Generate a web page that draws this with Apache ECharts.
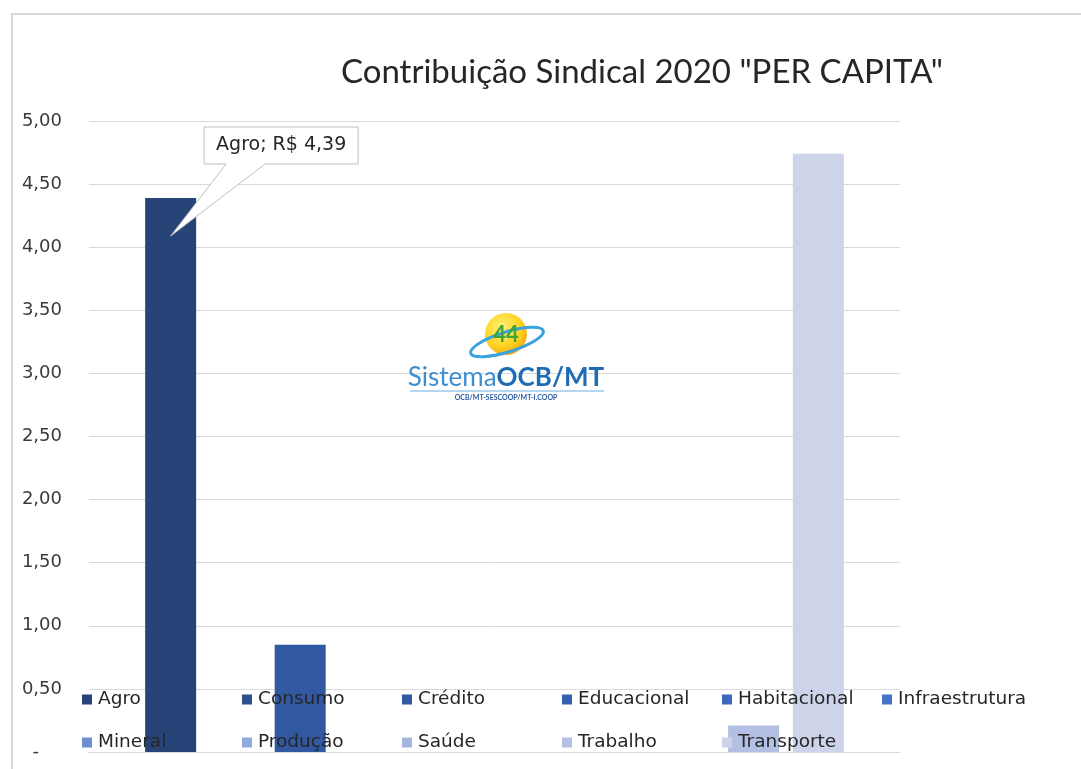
<!DOCTYPE html>
<html>
<head>
<meta charset="utf-8">
<script src="https://cdn.jsdelivr.net/npm/echarts@6/dist/echarts.min.js"></script>
<style>
  html, body { margin: 0; padding: 0; background: #fff; }
  #chart { width: 1081px; height: 769px; }
</style>
</head>
<body>
<div id="chart"></div>
<script>
// series (one bar each, Excel clustered column with a single category)
const seriesNames = ['Agro', 'Consumo', 'Crédito', 'Educacional', 'Habitacional', 'Infraestrutura',
  'Mineral', 'Produção', 'Saúde', 'Trabalho', 'Transporte']
const seriesValues = [4.39, null, 0.85, null, null, null, null, null, null, 0.21, 4.74]
const seriesColors = ['#264478', '#2c4f8d', '#3158a0', '#365fb0', '#3d68bd', '#4472c4',
  '#6e8fd0', '#8faadc', '#a4b6e0', '#b4c0e3', '#cdd4e9']
const yTicks = [0, 0.5, 1, 1.5, 2, 2.5, 3, 3.5, 4, 4.5, 5]
const calloutText = 'Agro; R$ 4,39'

const FONT = '"DejaVu Sans", sans-serif'
const TITLE_FONT = 'Lato, sans-serif'
const chart = echarts.init(document.getElementById('chart'))

const fmt = (v) => v === 0 ? '-    ' : v.toFixed(2).replace('.', ',')

// one legend block per series, laid out on a 6-column grid like Excel
const legends = seriesNames.map((name, i) => ({
  data: [name],
  left: 82 + (i % 6) * 160,
  top: 690 + Math.floor(i / 6) * 43,
  icon: 'rect', itemWidth: 10, itemHeight: 10, itemGap: 0,
  padding: 0,
  textStyle: { fontFamily: FONT, fontSize: 18.5, color: '#262626', padding: [0, 0, 0, 1] }
}))

const option = {
  backgroundColor: '#fff',
  animation: false,
  title: {
    text: 'Contribuição Sindical 2020 "PER CAPITA"',
    left: 336,
    top: 51,
    textStyle: { fontFamily: TITLE_FONT, fontSize: 33, fontWeight: 'normal', color: '#262626' }
  },
  legend: legends,
  grid: { left: 89, right: 181, top: 121, bottom: 17 },
  xAxis: {
    type: 'category',
    data: [''],
    axisLine: { lineStyle: { color: '#d9d9d9' } },
    axisTick: { show: false },
    axisLabel: { show: false }
  },
  yAxis: {
    type: 'value',
    min: yTicks[0],
    max: yTicks[yTicks.length - 1],
    interval: 0.5,
    axisLine: { show: false },
    axisTick: { show: false },
    splitLine: { lineStyle: { color: '#d9d9d9', width: 1 } },
    axisLabel: {
      margin: 27,
      fontFamily: FONT,
      fontSize: 18,
      color: '#3a3a3a',
      formatter: fmt
    }
  },
  series: seriesNames.map((name, i) => ({
    name,
    type: 'bar',
    data: [seriesValues[i]],
    barWidth: 51,
    barGap: '27%',
    itemStyle: { color: seriesColors[i] },
    z: 1
  }))
}

chart.setOption(option)

// callout for Agro bar + logo watermark
const drawExtras = () => {
  const layout = chart.getModel().getSeriesByIndex(0).getData().getItemLayout(0)
  const bx = layout.x
  const by = Math.min(layout.y, layout.y + layout.height)
  const tipX = bx + layout.width / 2
  const tipY = by + 38
  const x0 = bx + 59, x1 = bx + 213, y0 = by - 71, y1 = by - 34
  const wa = bx + 81, wb = bx + 120

  chart.setOption({
    graphic: [
      {
        type: 'polygon',
        z: 50,
        shape: { points: [[x0, y0], [x1, y0], [x1, y1], [wb, y1], [tipX, tipY], [wa, y1], [x0, y1]] },
        style: { fill: '#fff', stroke: '#bfbfbf', lineWidth: 1 }
      },
      {
        type: 'text',
        z: 51,
        x: (x0 + x1) / 2,
        y: (y0 + y1) / 2,
        style: {
          text: calloutText, fontFamily: FONT, fontSize: 19, fill: '#262626',
          align: 'center', verticalAlign: 'middle'
        }
      },
      // chart frame
      {
        type: 'polyline',
        z: 0,
        shape: { points: [[12, 769], [12, 14], [1081, 14]] },
        style: { stroke: '#d9d9d9', lineWidth: 2, fill: null }
      },
      // logo watermark
      {
        type: 'circle',
        z: 5,
        shape: { cx: 506, cy: 334, r: 21 },
        style: {
          fill: new echarts.graphic.RadialGradient(0.4, 0.35, 0.75, [
            { offset: 0, color: '#fff27a' },
            { offset: 0.6, color: '#ffd21f' },
            { offset: 1, color: '#f39a12' }
          ])
        }
      },
      {
        type: 'ellipse',
        z: 6,
        x: 507, y: 342,
        rotation: 0.3,
        shape: { cx: 0, cy: 0, rx: 38, ry: 10 },
        style: { fill: null, stroke: '#3aa3dd', lineWidth: 3 }
      },
      {
        type: 'text',
        z: 7,
        x: 506, y: 335,
        style: {
          text: '44', fontFamily: TITLE_FONT, fontSize: 22, fontWeight: 'bold',
          fill: '#3da43a', align: 'center', verticalAlign: 'middle'
        }
      },
      {
        type: 'text',
        z: 7,
        x: 506, y: 378,
        style: {
          text: '{a|Sistema}{b|OCB/MT}',
          align: 'center', verticalAlign: 'middle',
          rich: {
            a: { fontFamily: TITLE_FONT, fontSize: 26, fill: '#3b8fd2' },
            b: { fontFamily: TITLE_FONT, fontSize: 26, fontWeight: 'bold', fill: '#1f6cb4' }
          }
        }
      },
      {
        type: 'line',
        z: 7,
        shape: { x1: 410, y1: 391, x2: 604, y2: 391 },
        style: { stroke: '#9cc9ea', lineWidth: 1.5 }
      },
      {
        type: 'text',
        z: 7,
        x: 506, y: 398,
        style: {
          text: 'OCB/MT-SESCOOP/MT-I.COOP', fontFamily: TITLE_FONT, fontSize: 7, fontWeight: 'bold',
          fill: '#2a5aa0', align: 'center', verticalAlign: 'middle'
        }
      }
    ]
  })
}

drawExtras()
window.addEventListener('resize', () => chart.resize())
</script>
</body>
</html>
